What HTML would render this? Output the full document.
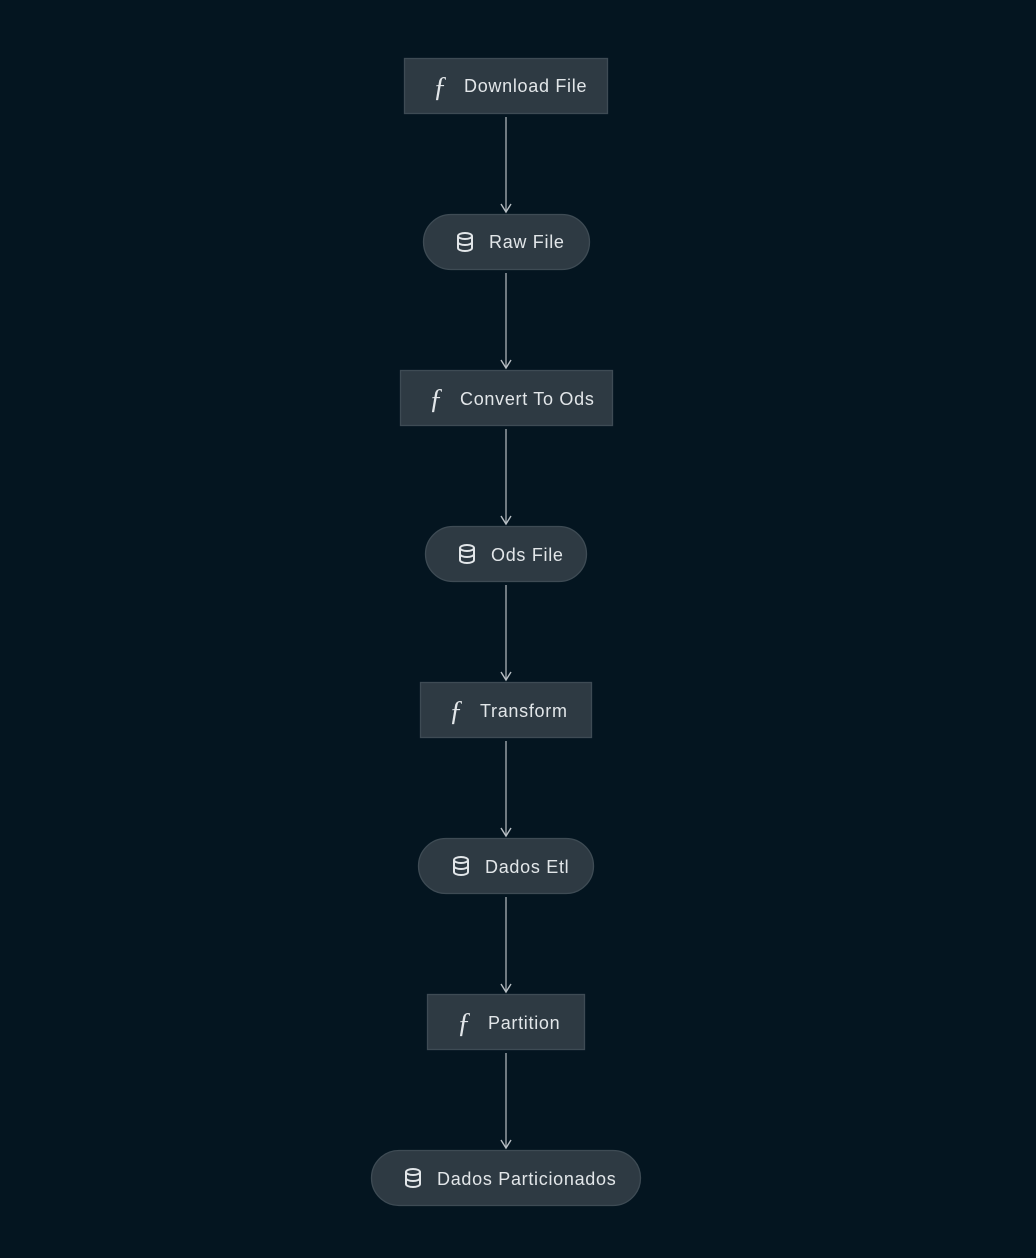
<!DOCTYPE html>
<html><head><style>
html,body{margin:0;padding:0;background:#041520;}
svg{display:block;}
text{font-family:"Liberation Sans",sans-serif;font-size:18px;fill:#e2e6e9;letter-spacing:0.7px;}
.f{font-family:"Liberation Serif",serif;font-style:italic;font-size:28px;letter-spacing:0;}
</style></head><body>
<svg width="1036" height="1258" viewBox="0 0 1036 1258">
<defs><marker id="a" markerWidth="12" markerHeight="12" refX="9" refY="6" orient="auto" markerUnits="userSpaceOnUse">
<path d="M1,1 L9,6 L1,11" fill="none" stroke="#b8bfc4" stroke-width="1.4"/></marker>
<g id="db"><ellipse cx="0" cy="-6" rx="7" ry="3" fill="none" stroke="#e2e6e9" stroke-width="2"/><path d="M-7,-6 V6 A7,3 0 0 0 7,6 V-6 M-7,0 A7,3 0 0 0 7,0" fill="none" stroke="#e2e6e9" stroke-width="2"/></g>
</defs>
<g stroke="#aab1b6" stroke-width="1.3" marker-end="url(#a)">
<line x1="506" y1="117" x2="506" y2="212"/>
<line x1="506" y1="273" x2="506" y2="368"/>
<line x1="506" y1="429" x2="506" y2="524"/>
<line x1="506" y1="585" x2="506" y2="680"/>
<line x1="506" y1="741" x2="506" y2="836"/>
<line x1="506" y1="897" x2="506" y2="992"/>
<line x1="506" y1="1053" x2="506" y2="1148"/>
</g>
<g fill="#2e3a43" stroke="#3e4b54" stroke-width="1.3">
<rect x="404.5" y="58.5" width="203" height="55"/>
<rect x="423.5" y="214.5" width="166" height="55" rx="27.5"/>
<rect x="400.5" y="370.5" width="212" height="55"/>
<rect x="425.5" y="526.5" width="161" height="55" rx="27.5"/>
<rect x="420.5" y="682.5" width="171" height="55"/>
<rect x="418.5" y="838.5" width="175" height="55" rx="27.5"/>
<rect x="427.5" y="994.5" width="157" height="55"/>
<rect x="371.5" y="1150.5" width="269" height="55" rx="27.5"/>
</g>
<text class="f" x="433" y="96">ƒ</text><text x="464" y="92">Download File</text>
<use href="#db" x="465" y="242"/><text x="489" y="248">Raw File</text>
<text class="f" x="429" y="408">ƒ</text><text x="460" y="405">Convert To Ods</text>
<use href="#db" x="467" y="554"/><text x="491" y="561">Ods File</text>
<text class="f" x="449" y="720">ƒ</text><text x="480" y="717">Transform</text>
<use href="#db" x="461" y="866"/><text x="485" y="873">Dados Etl</text>
<text class="f" x="457" y="1032">ƒ</text><text x="488" y="1029">Partition</text>
<use href="#db" x="413" y="1178"/><text x="437" y="1185">Dados Particionados</text>
</svg>
</body></html>
